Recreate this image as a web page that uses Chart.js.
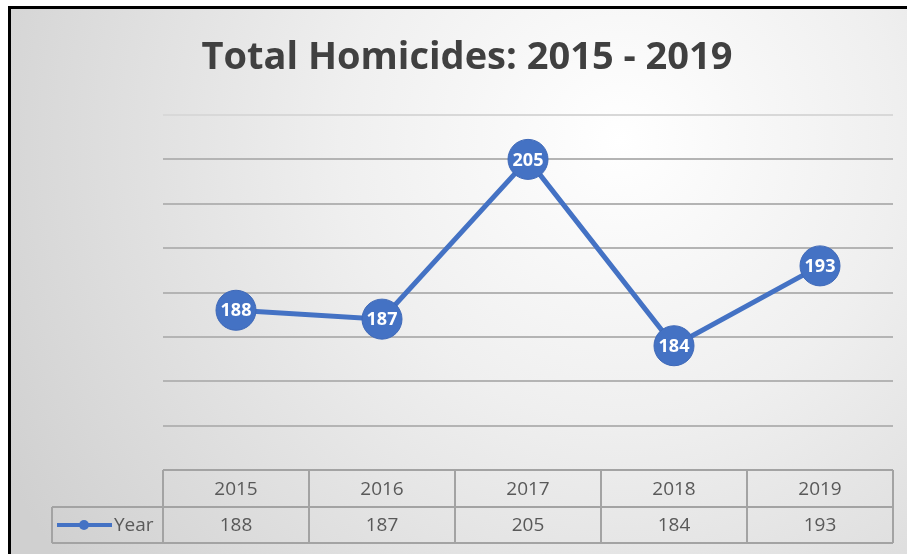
<!DOCTYPE html>
<html>
<head>
<meta charset="utf-8">
<script src="https://cdn.jsdelivr.net/npm/chart.js@4"></script>
<style>
  html, body { margin: 0; padding: 0; background: #fff; }
  canvas { display: block; }
</style>
</head>
<body>
<canvas id="chart" width="907" height="554"></canvas>
<script>
const years = ["2015", "2016", "2017", "2018", "2019"];
const homicides = [188, 187, 205, 184, 193];
const seriesName = "Year";
const chartTitle = "Total Homicides: 2015 - 2019";
const yMin = 170, yMax = 210, yStep = 5;

const blue = "#4472C4";
const font = "'Open Sans', 'Noto Sans', sans-serif";

// gray radial background + black frame on top and left
const backdrop = {
  id: "backdrop",
  beforeDraw(chart) {
    const ctx = chart.ctx;
    ctx.save();
    ctx.fillStyle = "#fff";
    ctx.fillRect(0, 0, chart.width, chart.height);
    const g = ctx.createRadialGradient(620, 140, 0, 620, 140, 700);
    g.addColorStop(0, "#ffffff");
    g.addColorStop(0.4, "#efefef");
    g.addColorStop(1, "#d0d0d0");
    ctx.fillStyle = g;
    ctx.fillRect(11, 9, chart.width - 11, chart.height - 9);
    ctx.fillStyle = "#000";
    ctx.fillRect(8, 6, chart.width - 8, 3);
    ctx.fillRect(8, 6, 3, chart.height - 6);
    ctx.restore();
  }
};

const titleText = {
  id: "titleText",
  afterDraw(chart) {
    const ctx = chart.ctx;
    ctx.save();
    ctx.font = "bold 38px " + font;
    ctx.fillStyle = "#404040";
    ctx.textAlign = "center";
    ctx.textBaseline = "middle";
    ctx.fillText(chartTitle, 467, 58);
    ctx.restore();
  }
};

// white value labels inside the markers
const pointLabels = {
  id: "pointLabels",
  afterDatasetsDraw(chart) {
    const ctx = chart.ctx;
    const meta = chart.getDatasetMeta(0);
    ctx.save();
    ctx.font = "bold 18px " + font;
    ctx.fillStyle = "#fff";
    ctx.textAlign = "center";
    ctx.textBaseline = "middle";
    meta.data.forEach((pt, i) => {
      ctx.fillText(String(homicides[i]), pt.x, pt.y + 1);
    });
    ctx.restore();
  }
};

// data table under the plot
const dataTable = {
  id: "dataTable",
  afterDraw(chart) {
    const ctx = chart.ctx;
    const area = chart.chartArea;
    const x = chart.scales.x;
    const colW = (area.right - area.left) / years.length;
    const top = area.bottom;
    const mid = top + 37;
    const bottom = mid + 36;
    const legendLeft = 52;

    ctx.save();
    ctx.strokeStyle = "#a3a3a3";
    ctx.lineWidth = 2;
    ctx.beginPath();
    ctx.moveTo(area.left, top); ctx.lineTo(area.right, top);
    ctx.moveTo(legendLeft, mid); ctx.lineTo(area.right, mid);
    ctx.moveTo(legendLeft, bottom); ctx.lineTo(area.right, bottom);
    ctx.moveTo(legendLeft, mid); ctx.lineTo(legendLeft, bottom);
    for (let i = 0; i <= years.length; i++) {
      const cx = area.left + i * colW;
      ctx.moveTo(cx, top); ctx.lineTo(cx, bottom);
    }
    ctx.stroke();

    ctx.font = "19px " + font;
    ctx.fillStyle = "#595959";
    ctx.textAlign = "center";
    ctx.textBaseline = "middle";
    years.forEach((y, i) => {
      const cx = x.getPixelForValue(i);
      ctx.fillText(y, cx, (top + mid) / 2 + 1);
      ctx.fillText(String(homicides[i]), cx, (mid + bottom) / 2 + 1);
    });

    // legend key
    const ly = (mid + bottom) / 2;
    ctx.strokeStyle = blue;
    ctx.lineWidth = 4;
    ctx.beginPath();
    ctx.moveTo(57, ly); ctx.lineTo(112, ly);
    ctx.stroke();
    ctx.fillStyle = blue;
    ctx.beginPath();
    ctx.arc(84, ly, 5, 0, Math.PI * 2);
    ctx.fill();
    ctx.fillStyle = "#595959";
    ctx.textAlign = "left";
    ctx.fillText(seriesName, 114, ly + 1);
    ctx.restore();
  }
};

new Chart(document.getElementById("chart"), {
  type: "line",
  data: {
    labels: years,
    datasets: [{
      label: seriesName,
      data: homicides,
      borderColor: blue,
      borderWidth: 5,
      pointRadius: 20,
      pointHoverRadius: 20,
      pointBackgroundColor: blue,
      pointBorderColor: "#3f69b8",
      pointBorderWidth: 1,
      tension: 0
    }]
  },
  options: {
    responsive: false,
    animation: false,
    devicePixelRatio: 1,
    layout: { autoPadding: false, padding: { left: 163, right: 14, top: 115, bottom: 84 } },
    plugins: {
      legend: { display: false },
      title: { display: false },
      tooltip: { enabled: false }
    },
    scales: {
      x: { display: false, offset: true },
      y: {
        min: yMin,
        max: yMax,
        ticks: { display: false, stepSize: yStep },
        border: { display: false },
        grid: {
          drawTicks: false,
          lineWidth: 2,
          color: ctx => ctx.tick && ctx.tick.value === yMax ? "#d8d8d8" : (ctx.tick && ctx.tick.value === yMin ? "rgba(0,0,0,0)" : "#b4b4b4")
        },
        afterFit: s => { s.width = 0; }
      }
    }
  },
  plugins: [backdrop, pointLabels, dataTable, titleText]
});
</script>
</body>
</html>
